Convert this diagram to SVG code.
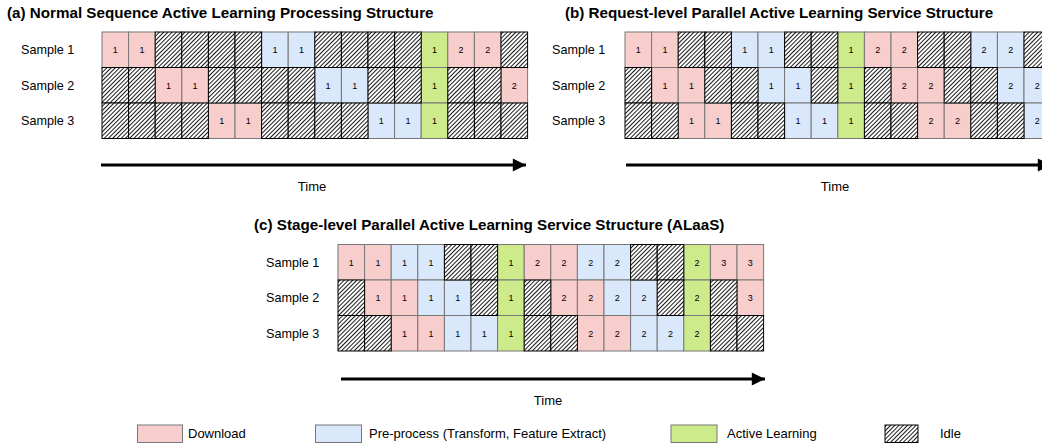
<svg xmlns="http://www.w3.org/2000/svg" width="1042" height="444" viewBox="0 0 1042 444">
<defs>
<pattern id="hatch" patternUnits="userSpaceOnUse" width="3" height="3" patternTransform="rotate(45)">
<rect width="3" height="3" fill="#ffffff"/>
<line x1="0.5" y1="0" x2="0.5" y2="3" stroke="#000" stroke-width="0.9"/>
</pattern>
<marker id="ah" viewBox="0 0 10 10" refX="10" refY="5" markerWidth="5" markerHeight="4.4" markerUnits="strokeWidth" orient="auto">
<path d="M0,0 L10,5 L0,10 Z" fill="#000"/>
</marker>
</defs>
<style>
text{font-family:"Liberation Sans",Arial,sans-serif;fill:#000}
.title{font-size:15.2px;font-weight:bold}
.lab{font-size:12.6px}
.num{font-size:9px;text-anchor:middle}
.time{font-size:13px;text-anchor:middle}
.leg{font-size:13px}
.p{fill:#f8cecc;stroke:#777;stroke-width:1}
.b{fill:#dae8fc;stroke:#777;stroke-width:1}
.g{fill:#cdeb8b;stroke:#777;stroke-width:1}
.i{fill:url(#hatch);stroke:#000;stroke-width:1}
.arrow{stroke:#000;stroke-width:3;fill:none}
</style>
<rect width="1042" height="444" fill="#fff"/>

<!-- Titles -->
<text class="title" x="7" y="18">(a) Normal Sequence Active Learning Processing Structure</text>
<text class="title" x="565" y="18">(b) Request-level Parallel Active Learning Service Structure</text>
<text class="title" x="254" y="229.5">(c) Stage-level Parallel Active Learning Service Structure (ALaaS)</text>

<!-- Row labels -->
<text class="lab" x="21" y="54.3">Sample 1</text>
<text class="lab" x="21" y="89.8">Sample 2</text>
<text class="lab" x="21" y="125.3">Sample 3</text>
<text class="lab" x="552" y="54.3">Sample 1</text>
<text class="lab" x="552" y="89.8">Sample 2</text>
<text class="lab" x="552" y="125.3">Sample 3</text>
<text class="lab" x="266" y="266.8">Sample 1</text>
<text class="lab" x="266" y="302.3">Sample 2</text>
<text class="lab" x="266" y="337.8">Sample 3</text>

<!-- Panel A -->
<g id="panel-a">
<g id="a-r1-c1"><rect class="p" x="102" y="32" width="26.6" height="35.5"/><text class="num" x="115.3" y="53">1</text></g>
<g id="a-r1-c2"><rect class="p" x="128.6" y="32" width="26.6" height="35.5"/><text class="num" x="141.9" y="53">1</text></g>
<g id="a-r1-c7"><rect class="b" x="261.6" y="32" width="26.6" height="35.5"/><text class="num" x="274.9" y="53">1</text></g>
<g id="a-r1-c8"><rect class="b" x="288.2" y="32" width="26.6" height="35.5"/><text class="num" x="301.5" y="53">1</text></g>
<g id="a-r1-c13"><rect class="g" x="421.2" y="32" width="26.6" height="35.5"/><text class="num" x="434.5" y="53">1</text></g>
<g id="a-r1-c14"><rect class="p" x="447.8" y="32" width="26.6" height="35.5"/><text class="num" x="461.1" y="53">2</text></g>
<g id="a-r1-c15"><rect class="p" x="474.4" y="32" width="26.6" height="35.5"/><text class="num" x="487.7" y="53">2</text></g>

<g id="a-r2-c3"><rect class="p" x="155.2" y="67.5" width="26.6" height="35.5"/><text class="num" x="168.5" y="88.5">1</text></g>
<g id="a-r2-c4"><rect class="p" x="181.8" y="67.5" width="26.6" height="35.5"/><text class="num" x="195.1" y="88.5">1</text></g>
<g id="a-r2-c9"><rect class="b" x="314.8" y="67.5" width="26.6" height="35.5"/><text class="num" x="328.1" y="88.5">1</text></g>
<g id="a-r2-c10"><rect class="b" x="341.4" y="67.5" width="26.6" height="35.5"/><text class="num" x="354.7" y="88.5">1</text></g>
<g id="a-r2-c13"><rect class="g" x="421.2" y="67.5" width="26.6" height="35.5"/><text class="num" x="434.5" y="88.5">1</text></g>
<g id="a-r2-c16"><rect class="p" x="501" y="67.5" width="26.6" height="35.5"/><text class="num" x="514.3" y="88.5">2</text></g>

<g id="a-r3-c5"><rect class="p" x="208.4" y="103" width="26.6" height="35.5"/><text class="num" x="221.7" y="124">1</text></g>
<g id="a-r3-c6"><rect class="p" x="235" y="103" width="26.6" height="35.5"/><text class="num" x="248.3" y="124">1</text></g>
<g id="a-r3-c11"><rect class="b" x="368" y="103" width="26.6" height="35.5"/><text class="num" x="381.3" y="124">1</text></g>
<g id="a-r3-c12"><rect class="b" x="394.6" y="103" width="26.6" height="35.5"/><text class="num" x="407.9" y="124">1</text></g>
<g id="a-r3-c13"><rect class="g" x="421.2" y="103" width="26.6" height="35.5"/><text class="num" x="434.5" y="124">1</text></g>

<g id="a-idle">
<rect class="i" x="155.2" y="32" width="26.6" height="35.5"/>
<rect class="i" x="181.8" y="32" width="26.6" height="35.5"/>
<rect class="i" x="208.4" y="32" width="26.6" height="35.5"/>
<rect class="i" x="235" y="32" width="26.6" height="35.5"/>
<rect class="i" x="314.8" y="32" width="26.6" height="35.5"/>
<rect class="i" x="341.4" y="32" width="26.6" height="35.5"/>
<rect class="i" x="368" y="32" width="26.6" height="35.5"/>
<rect class="i" x="394.6" y="32" width="26.6" height="35.5"/>
<rect class="i" x="501" y="32" width="26.6" height="35.5"/>
<rect class="i" x="102" y="67.5" width="26.6" height="35.5"/>
<rect class="i" x="128.6" y="67.5" width="26.6" height="35.5"/>
<rect class="i" x="208.4" y="67.5" width="26.6" height="35.5"/>
<rect class="i" x="235" y="67.5" width="26.6" height="35.5"/>
<rect class="i" x="261.6" y="67.5" width="26.6" height="35.5"/>
<rect class="i" x="288.2" y="67.5" width="26.6" height="35.5"/>
<rect class="i" x="368" y="67.5" width="26.6" height="35.5"/>
<rect class="i" x="394.6" y="67.5" width="26.6" height="35.5"/>
<rect class="i" x="447.8" y="67.5" width="26.6" height="35.5"/>
<rect class="i" x="474.4" y="67.5" width="26.6" height="35.5"/>
<rect class="i" x="102" y="103" width="26.6" height="35.5"/>
<rect class="i" x="128.6" y="103" width="26.6" height="35.5"/>
<rect class="i" x="155.2" y="103" width="26.6" height="35.5"/>
<rect class="i" x="181.8" y="103" width="26.6" height="35.5"/>
<rect class="i" x="261.6" y="103" width="26.6" height="35.5"/>
<rect class="i" x="288.2" y="103" width="26.6" height="35.5"/>
<rect class="i" x="314.8" y="103" width="26.6" height="35.5"/>
<rect class="i" x="341.4" y="103" width="26.6" height="35.5"/>
<rect class="i" x="447.8" y="103" width="26.6" height="35.5"/>
<rect class="i" x="474.4" y="103" width="26.6" height="35.5"/>
<rect class="i" x="501" y="103" width="26.6" height="35.5"/>
</g>
</g>

<!-- Panel B -->
<g id="panel-b">
<g id="b-r1-c1"><rect class="p" x="625" y="32" width="26.6" height="35.5"/><text class="num" x="638.3" y="53">1</text></g>
<g id="b-r1-c2"><rect class="p" x="651.6" y="32" width="26.6" height="35.5"/><text class="num" x="664.9" y="53">1</text></g>
<g id="b-r1-c5"><rect class="b" x="731.4" y="32" width="26.6" height="35.5"/><text class="num" x="744.7" y="53">1</text></g>
<g id="b-r1-c6"><rect class="b" x="758" y="32" width="26.6" height="35.5"/><text class="num" x="771.3" y="53">1</text></g>
<g id="b-r1-c9"><rect class="g" x="837.8" y="32" width="26.6" height="35.5"/><text class="num" x="851.1" y="53">1</text></g>
<g id="b-r1-c10"><rect class="p" x="864.4" y="32" width="26.6" height="35.5"/><text class="num" x="877.7" y="53">2</text></g>
<g id="b-r1-c11"><rect class="p" x="891" y="32" width="26.6" height="35.5"/><text class="num" x="904.3" y="53">2</text></g>
<g id="b-r1-c14"><rect class="b" x="970.8" y="32" width="26.6" height="35.5"/><text class="num" x="984.1" y="53">2</text></g>
<g id="b-r1-c15"><rect class="b" x="997.4" y="32" width="26.6" height="35.5"/><text class="num" x="1010.7" y="53">2</text></g>

<g id="b-r2-c2"><rect class="p" x="651.6" y="67.5" width="26.6" height="35.5"/><text class="num" x="664.9" y="88.5">1</text></g>
<g id="b-r2-c3"><rect class="p" x="678.2" y="67.5" width="26.6" height="35.5"/><text class="num" x="691.5" y="88.5">1</text></g>
<g id="b-r2-c6"><rect class="b" x="758" y="67.5" width="26.6" height="35.5"/><text class="num" x="771.3" y="88.5">1</text></g>
<g id="b-r2-c7"><rect class="b" x="784.6" y="67.5" width="26.6" height="35.5"/><text class="num" x="797.9" y="88.5">1</text></g>
<g id="b-r2-c9"><rect class="g" x="837.8" y="67.5" width="26.6" height="35.5"/><text class="num" x="851.1" y="88.5">1</text></g>
<g id="b-r2-c11"><rect class="p" x="891" y="67.5" width="26.6" height="35.5"/><text class="num" x="904.3" y="88.5">2</text></g>
<g id="b-r2-c12"><rect class="p" x="917.6" y="67.5" width="26.6" height="35.5"/><text class="num" x="930.9" y="88.5">2</text></g>
<g id="b-r2-c15"><rect class="b" x="997.4" y="67.5" width="26.6" height="35.5"/><text class="num" x="1010.7" y="88.5">2</text></g>
<g id="b-r2-c16"><rect class="b" x="1024" y="67.5" width="26.6" height="35.5"/><text class="num" x="1037.3" y="88.5">2</text></g>

<g id="b-r3-c3"><rect class="p" x="678.2" y="103" width="26.6" height="35.5"/><text class="num" x="691.5" y="124">1</text></g>
<g id="b-r3-c4"><rect class="p" x="704.8" y="103" width="26.6" height="35.5"/><text class="num" x="718.1" y="124">1</text></g>
<g id="b-r3-c7"><rect class="b" x="784.6" y="103" width="26.6" height="35.5"/><text class="num" x="797.9" y="124">1</text></g>
<g id="b-r3-c8"><rect class="b" x="811.2" y="103" width="26.6" height="35.5"/><text class="num" x="824.5" y="124">1</text></g>
<g id="b-r3-c9"><rect class="g" x="837.8" y="103" width="26.6" height="35.5"/><text class="num" x="851.1" y="124">1</text></g>
<g id="b-r3-c12"><rect class="p" x="917.6" y="103" width="26.6" height="35.5"/><text class="num" x="930.9" y="124">2</text></g>
<g id="b-r3-c13"><rect class="p" x="944.2" y="103" width="26.6" height="35.5"/><text class="num" x="957.5" y="124">2</text></g>
<g id="b-r3-c16"><rect class="b" x="1024" y="103" width="26.6" height="35.5"/><text class="num" x="1037.3" y="124">2</text></g>

<g id="b-idle">
<rect class="i" x="678.2" y="32" width="26.6" height="35.5"/>
<rect class="i" x="704.8" y="32" width="26.6" height="35.5"/>
<rect class="i" x="784.6" y="32" width="26.6" height="35.5"/>
<rect class="i" x="811.2" y="32" width="26.6" height="35.5"/>
<rect class="i" x="917.6" y="32" width="26.6" height="35.5"/>
<rect class="i" x="944.2" y="32" width="26.6" height="35.5"/>
<rect class="i" x="1024" y="32" width="26.6" height="35.5"/>
<rect class="i" x="625" y="67.5" width="26.6" height="35.5"/>
<rect class="i" x="704.8" y="67.5" width="26.6" height="35.5"/>
<rect class="i" x="731.4" y="67.5" width="26.6" height="35.5"/>
<rect class="i" x="811.2" y="67.5" width="26.6" height="35.5"/>
<rect class="i" x="864.4" y="67.5" width="26.6" height="35.5"/>
<rect class="i" x="944.2" y="67.5" width="26.6" height="35.5"/>
<rect class="i" x="970.8" y="67.5" width="26.6" height="35.5"/>
<rect class="i" x="625" y="103" width="26.6" height="35.5"/>
<rect class="i" x="651.6" y="103" width="26.6" height="35.5"/>
<rect class="i" x="731.4" y="103" width="26.6" height="35.5"/>
<rect class="i" x="758" y="103" width="26.6" height="35.5"/>
<rect class="i" x="864.4" y="103" width="26.6" height="35.5"/>
<rect class="i" x="891" y="103" width="26.6" height="35.5"/>
<rect class="i" x="970.8" y="103" width="26.6" height="35.5"/>
<rect class="i" x="997.4" y="103" width="26.6" height="35.5"/>
</g>
</g>

<!-- Panel C -->
<g id="panel-c">
<g id="c-r1-c1"><rect class="p" x="338" y="244.5" width="26.6" height="35.5"/><text class="num" x="351.3" y="265.5">1</text></g>
<g id="c-r1-c2"><rect class="p" x="364.6" y="244.5" width="26.6" height="35.5"/><text class="num" x="377.9" y="265.5">1</text></g>
<g id="c-r1-c3"><rect class="b" x="391.2" y="244.5" width="26.6" height="35.5"/><text class="num" x="404.5" y="265.5">1</text></g>
<g id="c-r1-c4"><rect class="b" x="417.8" y="244.5" width="26.6" height="35.5"/><text class="num" x="431.1" y="265.5">1</text></g>
<g id="c-r1-c7"><rect class="g" x="497.6" y="244.5" width="26.6" height="35.5"/><text class="num" x="510.9" y="265.5">1</text></g>
<g id="c-r1-c8"><rect class="p" x="524.2" y="244.5" width="26.6" height="35.5"/><text class="num" x="537.5" y="265.5">2</text></g>
<g id="c-r1-c9"><rect class="p" x="550.8" y="244.5" width="26.6" height="35.5"/><text class="num" x="564.1" y="265.5">2</text></g>
<g id="c-r1-c10"><rect class="b" x="577.4" y="244.5" width="26.6" height="35.5"/><text class="num" x="590.7" y="265.5">2</text></g>
<g id="c-r1-c11"><rect class="b" x="604" y="244.5" width="26.6" height="35.5"/><text class="num" x="617.3" y="265.5">2</text></g>
<g id="c-r1-c14"><rect class="g" x="683.8" y="244.5" width="26.6" height="35.5"/><text class="num" x="697.1" y="265.5">2</text></g>
<g id="c-r1-c15"><rect class="p" x="710.4" y="244.5" width="26.6" height="35.5"/><text class="num" x="723.7" y="265.5">3</text></g>
<g id="c-r1-c16"><rect class="p" x="737" y="244.5" width="26.6" height="35.5"/><text class="num" x="750.3" y="265.5">3</text></g>

<g id="c-r2-c2"><rect class="p" x="364.6" y="280" width="26.6" height="35.5"/><text class="num" x="377.9" y="301">1</text></g>
<g id="c-r2-c3"><rect class="p" x="391.2" y="280" width="26.6" height="35.5"/><text class="num" x="404.5" y="301">1</text></g>
<g id="c-r2-c4"><rect class="b" x="417.8" y="280" width="26.6" height="35.5"/><text class="num" x="431.1" y="301">1</text></g>
<g id="c-r2-c5"><rect class="b" x="444.4" y="280" width="26.6" height="35.5"/><text class="num" x="457.7" y="301">1</text></g>
<g id="c-r2-c7"><rect class="g" x="497.6" y="280" width="26.6" height="35.5"/><text class="num" x="510.9" y="301">1</text></g>
<g id="c-r2-c9"><rect class="p" x="550.8" y="280" width="26.6" height="35.5"/><text class="num" x="564.1" y="301">2</text></g>
<g id="c-r2-c10"><rect class="p" x="577.4" y="280" width="26.6" height="35.5"/><text class="num" x="590.7" y="301">2</text></g>
<g id="c-r2-c11"><rect class="b" x="604" y="280" width="26.6" height="35.5"/><text class="num" x="617.3" y="301">2</text></g>
<g id="c-r2-c12"><rect class="b" x="630.6" y="280" width="26.6" height="35.5"/><text class="num" x="643.9" y="301">2</text></g>
<g id="c-r2-c14"><rect class="g" x="683.8" y="280" width="26.6" height="35.5"/><text class="num" x="697.1" y="301">2</text></g>
<g id="c-r2-c16"><rect class="p" x="737" y="280" width="26.6" height="35.5"/><text class="num" x="750.3" y="301">3</text></g>

<g id="c-r3-c3"><rect class="p" x="391.2" y="315.5" width="26.6" height="35.5"/><text class="num" x="404.5" y="336.5">1</text></g>
<g id="c-r3-c4"><rect class="p" x="417.8" y="315.5" width="26.6" height="35.5"/><text class="num" x="431.1" y="336.5">1</text></g>
<g id="c-r3-c5"><rect class="b" x="444.4" y="315.5" width="26.6" height="35.5"/><text class="num" x="457.7" y="336.5">1</text></g>
<g id="c-r3-c6"><rect class="b" x="471" y="315.5" width="26.6" height="35.5"/><text class="num" x="484.3" y="336.5">1</text></g>
<g id="c-r3-c7"><rect class="g" x="497.6" y="315.5" width="26.6" height="35.5"/><text class="num" x="510.9" y="336.5">1</text></g>
<g id="c-r3-c10"><rect class="p" x="577.4" y="315.5" width="26.6" height="35.5"/><text class="num" x="590.7" y="336.5">2</text></g>
<g id="c-r3-c11"><rect class="p" x="604" y="315.5" width="26.6" height="35.5"/><text class="num" x="617.3" y="336.5">2</text></g>
<g id="c-r3-c12"><rect class="b" x="630.6" y="315.5" width="26.6" height="35.5"/><text class="num" x="643.9" y="336.5">2</text></g>
<g id="c-r3-c13"><rect class="b" x="657.2" y="315.5" width="26.6" height="35.5"/><text class="num" x="670.5" y="336.5">2</text></g>
<g id="c-r3-c14"><rect class="g" x="683.8" y="315.5" width="26.6" height="35.5"/><text class="num" x="697.1" y="336.5">2</text></g>

<g id="c-idle">
<rect class="i" x="444.4" y="244.5" width="26.6" height="35.5"/>
<rect class="i" x="471" y="244.5" width="26.6" height="35.5"/>
<rect class="i" x="630.6" y="244.5" width="26.6" height="35.5"/>
<rect class="i" x="657.2" y="244.5" width="26.6" height="35.5"/>
<rect class="i" x="338" y="280" width="26.6" height="35.5"/>
<rect class="i" x="471" y="280" width="26.6" height="35.5"/>
<rect class="i" x="524.2" y="280" width="26.6" height="35.5"/>
<rect class="i" x="657.2" y="280" width="26.6" height="35.5"/>
<rect class="i" x="710.4" y="280" width="26.6" height="35.5"/>
<rect class="i" x="338" y="315.5" width="26.6" height="35.5"/>
<rect class="i" x="364.6" y="315.5" width="26.6" height="35.5"/>
<rect class="i" x="524.2" y="315.5" width="26.6" height="35.5"/>
<rect class="i" x="550.8" y="315.5" width="26.6" height="35.5"/>
<rect class="i" x="710.4" y="315.5" width="26.6" height="35.5"/>
<rect class="i" x="737" y="315.5" width="26.6" height="35.5"/>
</g>
</g>

<!-- Connectors: time arrows -->
<g id="connectors">
<line class="arrow" x1="101" y1="165" x2="526" y2="165" marker-end="url(#ah)"/>
<line class="arrow" x1="626" y1="165" x2="1051" y2="165" marker-end="url(#ah)"/>
<line class="arrow" x1="341" y1="379" x2="765" y2="379" marker-end="url(#ah)"/>
</g>
<text class="time" x="312" y="190.5">Time</text>
<text class="time" x="835" y="190.5">Time</text>
<text class="time" x="548" y="404.5">Time</text>

<!-- Legend -->
<g id="legend">
<g id="leg-download"><rect class="p" x="137.5" y="425" width="45" height="17.5"/><text class="leg" x="188" y="438">Download</text></g>
<g id="leg-preprocess"><rect class="b" x="315.5" y="425" width="46" height="17.5"/><text class="leg" x="369" y="438">Pre-process (Transform, Feature Extract)</text></g>
<g id="leg-al"><rect class="g" x="671" y="425" width="46" height="17.5"/><text class="leg" x="727" y="438">Active Learning</text></g>
<g id="leg-idle"><rect class="i" x="885" y="425" width="33" height="17.5"/><text class="leg" x="940" y="438">Idle</text></g>
</g>
</svg>
